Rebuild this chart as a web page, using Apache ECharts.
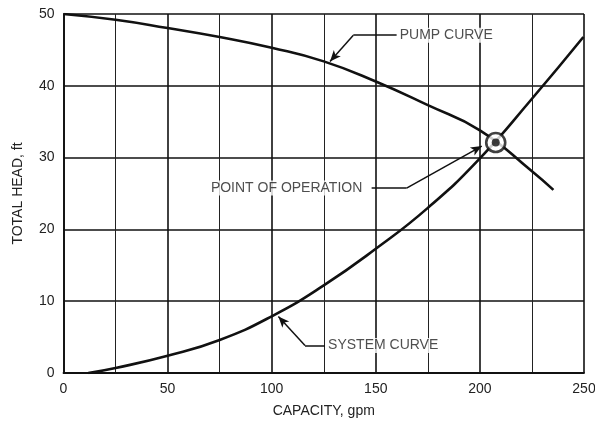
<!DOCTYPE html>
<html><head><meta charset="utf-8">
<script src="https://cdn.jsdelivr.net/npm/echarts@6/dist/echarts.min.js"></script>
<style>html,body{margin:0;padding:0;background:#fff}#c{width:595px;height:425px}</style>
</head><body><div id="c"></div>
<script>
// capacity (gpm), head (ft)
const pumpCapacity = [0, 25, 50, 75, 100, 125, 150, 175, 200, 225, 235.3];
const pumpHead     = [50, 49.2, 48.05, 46.8, 45.3, 43.4, 40.6, 37.3, 33.8, 28.1, 25.5];
const systemCapacity = [11.9, 25, 50, 75, 100, 125, 150, 175, 200, 225, 249.7];
const systemHead     = [0, 0.7, 2.4, 4.6, 7.9, 12.2, 17.3, 23.0, 29.9, 38.2, 46.8];
const operatingPoint = [207.6, 32.1];
const xTicks = [0, 50, 100, 150, 200, 250];
const yTicks = [0, 10, 20, 30, 40, 50];
// annotations: text, anchor [capacity, head], label side, leader path (capacity, head), last point = arrow tip
const annotations = [
  {text: 'PUMP CURVE', anchor: [161.0, 47.05], side: 'right',
   path: [[160.0, 47.05], [139.2, 47.05], [128.0, 43.4]]},
  {text: 'POINT OF OPERATION', anchor: [144.0, 25.75], side: 'left',
   path: [[148.0, 25.75], [164.8, 25.75], [200.9, 31.6]]},
  {text: 'SYSTEM CURVE', anchor: [126.6, 3.84], side: 'right',
   path: [[125.6, 3.84], [116.0, 3.84], [103.2, 7.87]]}
];

const zip = (a, b) => a.map((v, i) => [v, b[i]]);
const FONT = '"Liberation Sans", Arial, sans-serif';
const INK = '#111';

const leaderData = [];
annotations.forEach(a => {
  for (let i = 0; i < a.path.length - 1; i++) {
    const last = i === a.path.length - 2;
    leaderData.push([
      {coord: a.path[i], symbol: 'none'},
      {coord: a.path[i + 1], symbol: last ? 'arrow' : 'none', symbolSize: last ? [7, 11] : 0}
    ]);
  }
});

const chart = echarts.init(document.getElementById('c'), null, {renderer: 'canvas'});
chart.setOption({
  animation: false,
  backgroundColor: '#fff',
  textStyle: {fontFamily: FONT},
  grid: {left: 63.5, right: 11, top: 14, bottom: 52, containLabel: false, outerBoundsMode: 'none'},
  xAxis: {
    type: 'value', min: 0, max: 250, interval: 50,
    name: 'CAPACITY, gpm', nameLocation: 'middle', nameGap: 31,
    nameTextStyle: {fontFamily: FONT, fontSize: 14, color: '#222'},
    axisLine: {show: true, lineStyle: {color: INK, width: 1.8}},
    axisTick: {show: false},
    axisLabel: {fontFamily: FONT, fontSize: 14, color: '#222', margin: 9,
      formatter: v => xTicks.includes(v) ? String(v) : ''},
    splitLine: {show: true, lineStyle: {color: INK, width: 1.6}},
    minorTick: {show: false, splitNumber: 2},
    minorSplitLine: {show: true, lineStyle: {color: '#222', width: 1}}
  },
  yAxis: {
    type: 'value', min: 0, max: 50, interval: 10,
    name: 'TOTAL HEAD, ft', nameLocation: 'middle', nameGap: 38, nameRotate: 90,
    nameTextStyle: {fontFamily: FONT, fontSize: 14, color: '#222'},
    axisLine: {show: true, lineStyle: {color: INK, width: 1.8}},
    axisTick: {show: false},
    axisLabel: {fontFamily: FONT, fontSize: 14, color: '#222', margin: 9,
      formatter: v => yTicks.includes(v) ? String(v) : ''},
    splitLine: {show: true, lineStyle: {color: INK, width: 1.6}}
  },
  series: [
    {type: 'line', name: 'Pump curve', data: zip(pumpCapacity, pumpHead), smooth: 0.5,
     showSymbol: false, lineStyle: {color: INK, width: 2.6}, z: 3},
    {type: 'line', name: 'System curve', data: zip(systemCapacity, systemHead), smooth: 0.5,
     showSymbol: false, lineStyle: {color: INK, width: 2.6}, z: 3},
    {type: 'scatter', name: 'Operating point ring', data: [operatingPoint], symbol: 'circle', symbolSize: 19,
     itemStyle: {color: '#fff', borderColor: INK, borderWidth: 2.6}, z: 5},
    {type: 'scatter', name: 'Operating point dot', data: [operatingPoint], symbol: 'circle', symbolSize: 8,
     itemStyle: {color: INK}, z: 6},
    {type: 'scatter', name: 'Annotations', symbolSize: 0, z: 7,
     data: annotations.map(a => ({value: a.anchor, label: {position: a.side, formatter: a.text}})),
     label: {show: true, distance: 0, fontFamily: FONT, fontSize: 14, color: '#222',
       backgroundColor: '#fff', padding: [1, 1, 0, 1]},
     markLine: {silent: true, animation: false, symbol: 'none', label: {show: false},
       lineStyle: {color: INK, width: 1.5, type: 'solid'}, data: leaderData}
    }
  ]
});
</script></body></html>
